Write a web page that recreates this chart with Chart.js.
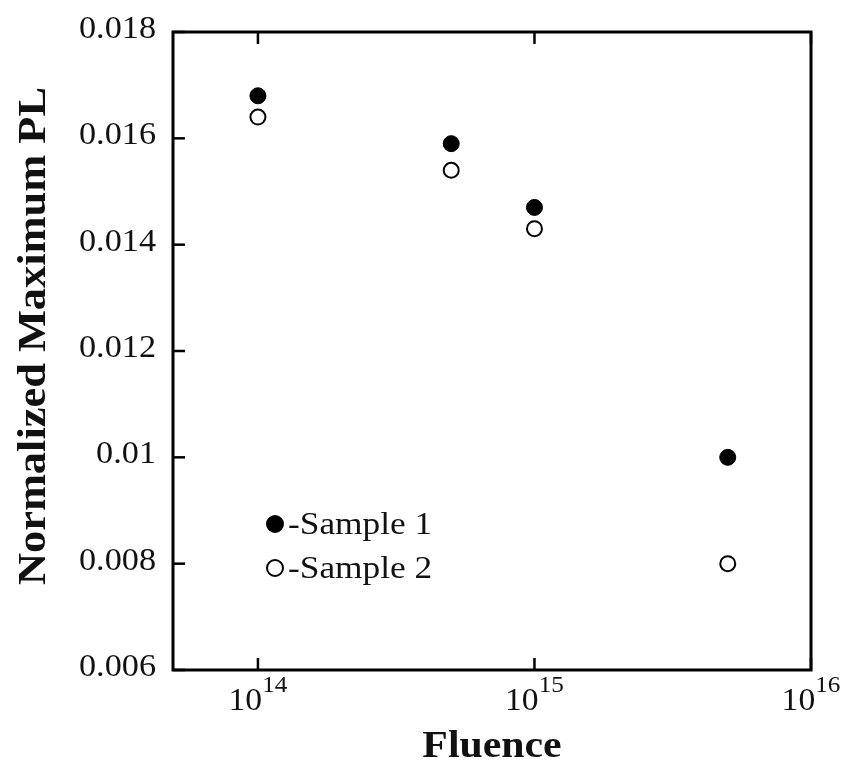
<!DOCTYPE html>
<html>
<head>
<meta charset="utf-8">
<script src="https://cdn.jsdelivr.net/npm/chart.js@4.4.1/dist/chart.umd.min.js"></script>
<style>
  html, body { margin: 0; padding: 0; background: #fff; }
  #wrap { width: 847px; height: 766px; }
</style>
</head>
<body>
<div id="wrap"><canvas id="c" width="847" height="766"></canvas></div>
<script>
// ---- data ----
const fluence = [1e14, 5e14, 1e15, 5e15];
const sample1 = [0.0168, 0.0159, 0.0147, 0.0100];
const sample2 = [0.0164, 0.0154, 0.0143, 0.0080];
const seriesNames = ['Sample 1', 'Sample 2'];
const xTickValues = [1e14, 1e15, 1e16];
const xTickExponents = ['14', '15', '16'];
const yTickValues = [0.006, 0.008, 0.010, 0.012, 0.014, 0.016, 0.018];
const yTickLabels = ['0.006', '0.008', '0.01', '0.012', '0.014', '0.016', '0.018'];
const xTitle = 'Fluence';
const yTitle = 'Normalized Maximum PL';

const SERIF = '"Liberation Serif", "Times New Roman", serif';

// draw text with a horizontal stretch factor; align: 'left' | 'center' | 'right'
function stretchedText(ctx, text, x, y, sx, align) {
  const w = ctx.measureText(text).width * sx;
  let start = x;
  if (align === 'center') start = x - w / 2;
  else if (align === 'right') start = x - w;
  ctx.save();
  ctx.translate(start, y);
  ctx.scale(sx, 1);
  ctx.textAlign = 'left';
  ctx.fillText(text, 0, 0);
  ctx.restore();
  return w;
}

const decorPlugin = {
  id: 'decor',
  beforeDatasetsDraw(chart) {
    const ctx = chart.ctx;
    const a = chart.chartArea;
    const xs = chart.scales.x, ys = chart.scales.y;
    ctx.save();
    ctx.strokeStyle = '#000';
    ctx.lineWidth = 3;
    ctx.strokeRect(a.left, a.top, a.right - a.left, a.bottom - a.top);
    ctx.lineWidth = 2.5;
    yTickValues.forEach(v => {
      const y = ys.getPixelForValue(v);
      ctx.beginPath(); ctx.moveTo(a.left, y); ctx.lineTo(a.left + 12, y); ctx.stroke();
    });
    xTickValues.forEach(v => {
      const x = xs.getPixelForValue(v);
      ctx.beginPath(); ctx.moveTo(x, a.bottom); ctx.lineTo(x, a.bottom - 12); ctx.stroke();
      ctx.beginPath(); ctx.moveTo(x, a.top); ctx.lineTo(x, a.top + 12); ctx.stroke();
    });
    ctx.restore();
  },
  afterDraw(chart) {
    const ctx = chart.ctx;
    const a = chart.chartArea;
    const xs = chart.scales.x, ys = chart.scales.y;
    ctx.save();
    ctx.fillStyle = '#111';
    ctx.textBaseline = 'alphabetic';
    // y tick labels
    ctx.font = '32px ' + SERIF;
    yTickValues.forEach((v, i) => {
      const y = ys.getPixelForValue(v);
      stretchedText(ctx, yTickLabels[i], a.left - 17, y + 6, 1.07, 'right');
    });
    // x tick labels 10^n
    const sxT = 1.05;
    xTickValues.forEach((v, i) => {
      const x = xs.getPixelForValue(v);
      ctx.font = '32px ' + SERIF;
      const wb = ctx.measureText('10').width * sxT;
      ctx.font = '24px ' + SERIF;
      const we = ctx.measureText(xTickExponents[i]).width * sxT;
      const start = x - (wb + we) / 2;
      ctx.font = '32px ' + SERIF;
      stretchedText(ctx, '10', start, a.bottom + 40, sxT, 'left');
      ctx.font = '24px ' + SERIF;
      stretchedText(ctx, xTickExponents[i], start + wb, a.bottom + 22, sxT, 'left');
    });
    // x title
    ctx.font = 'bold 38px ' + SERIF;
    stretchedText(ctx, xTitle, (a.left + a.right) / 2, 757, 1.1, 'center');
    // y title
    ctx.save();
    ctx.translate(45, 336);
    ctx.rotate(-Math.PI / 2);
    ctx.font = 'bold 40px ' + SERIF;
    stretchedText(ctx, yTitle, 0, 0, 1.11, 'center');
    ctx.restore();
    // legend
    const ds = chart.data.datasets;
    const legendY = [524, 568];
    ds.forEach((d, i) => {
      const cy = legendY[i];
      ctx.beginPath();
      ctx.arc(275, cy, 8, 0, Math.PI * 2);
      ctx.fillStyle = d.backgroundColor;
      ctx.fill();
      ctx.lineWidth = 2;
      ctx.strokeStyle = '#000';
      ctx.stroke();
      ctx.fillStyle = '#111';
      ctx.font = '31px ' + SERIF;
      stretchedText(ctx, '-' + d.label, 288, cy + 10, 1.14, 'left');
    });
    ctx.restore();
  }
};

new Chart(document.getElementById('c'), {
  type: 'scatter',
  data: {
    datasets: [
      {
        label: seriesNames[0],
        data: fluence.map((x, i) => ({ x, y: sample1[i] })),
        backgroundColor: '#000',
        borderColor: '#000',
        borderWidth: 1,
        pointRadius: 8,
        pointHoverRadius: 8
      },
      {
        label: seriesNames[1],
        data: fluence.map((x, i) => ({ x, y: sample2[i] })),
        backgroundColor: '#fff',
        borderColor: '#000',
        borderWidth: 2,
        pointRadius: 7.5,
        pointHoverRadius: 7.5
      }
    ]
  },
  options: {
    responsive: false,
    animation: false,
    layout: { padding: { left: 173, right: 36, top: 32, bottom: 96 } },
    plugins: { legend: { display: false }, tooltip: { enabled: false } },
    scales: {
      x: {
        type: 'logarithmic',
        min: 4.93e13,
        max: 1e16,
        grid: { display: false, drawTicks: false },
        border: { display: false },
        ticks: { display: false }
      },
      y: {
        type: 'linear',
        min: 0.006,
        max: 0.018,
        grid: { display: false, drawTicks: false },
        border: { display: false },
        ticks: { display: false, stepSize: 0.002 }
      }
    }
  },
  plugins: [decorPlugin]
});
</script>
</body>
</html>
